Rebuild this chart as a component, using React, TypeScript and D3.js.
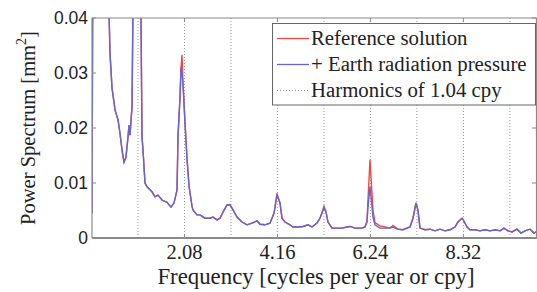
import React, { useEffect, useRef } from 'react'
import { select, scaleLinear, line, range } from 'd3'

// frequency (cpy) of each sample
const freqs = [
  0.011, 0.034, 0.09, 0.2, 0.33, 0.392, 0.414, 0.459, 0.526, 0.593, 0.638, 0.682, 0.727, 0.772, 0.817, 0.839,
  0.861, 0.906, 0.928, 0.973, 1.04, 1.096, 1.107, 1.13, 1.152, 1.197, 1.242, 1.353, 1.421, 1.488, 1.577,
  1.689, 1.779, 1.846, 1.913, 1.935, 1.98, 2.003, 2.025, 2.047, 2.092, 2.136, 2.181, 2.248, 2.27, 2.36,
  2.427, 2.539, 2.651, 2.718, 2.808, 2.875, 2.942, 3.031, 3.098, 3.166, 3.255, 3.367, 3.479, 3.591, 3.703,
  3.77, 3.882, 3.993, 4.083, 4.15, 4.217, 4.262, 4.329, 4.441, 4.508, 4.62, 4.732, 4.843, 4.933, 5.045,
  5.112, 5.201, 5.246, 5.291, 5.38, 5.492, 5.604, 5.716, 5.783, 5.895, 6.051, 6.119, 6.163, 6.186, 6.23,
  6.253, 6.298, 6.342, 6.454, 6.566, 6.678, 6.745, 6.857, 6.969, 7.058, 7.125, 7.192, 7.26, 7.304, 7.349,
  7.461, 7.573, 7.685, 7.796, 7.908, 8.02, 8.132, 8.199, 8.289, 8.311, 8.401, 8.468, 8.58, 8.691, 8.803,
  8.915, 9.027, 9.139, 9.228, 9.318, 9.407, 9.519, 9.609, 9.698, 9.81, 9.899, 9.99
]

// + Earth radiation pressure
const earthRad = [
  0.0045, 0.06, 0.1, 0.12, 0.08, 0.041, 0.0336, 0.0273, 0.0233, 0.0215, 0.019, 0.016, 0.0138, 0.0147, 0.0184, 0.0205,
  0.0187, 0.0238, 0.042, 0.07, 0.09, 0.05, 0.04, 0.0184, 0.016, 0.01, 0.0093, 0.0084, 0.0075, 0.0078, 0.0069,
  0.0065, 0.0056, 0.0064, 0.0087, 0.0184, 0.0256, 0.031, 0.03, 0.028, 0.021, 0.0145, 0.0095, 0.0058, 0.0051, 0.0042,
  0.0042, 0.0036, 0.0036, 0.0038, 0.0033, 0.0036, 0.0047, 0.006, 0.006, 0.0051, 0.0038, 0.0029, 0.0024, 0.0027, 0.0031,
  0.0025, 0.0024, 0.0027, 0.0045, 0.0078, 0.0064, 0.0036, 0.0029, 0.0024, 0.002, 0.002, 0.0021, 0.0024, 0.002, 0.0027,
  0.0036, 0.0055, 0.0047, 0.0029, 0.0018, 0.0018, 0.0018, 0.002, 0.0021, 0.0018, 0.0018, 0.002, 0.0029, 0.0056, 0.0093,
  0.0075, 0.0038, 0.0024, 0.0018, 0.0018, 0.0018, 0.002, 0.0016, 0.0015, 0.0018, 0.002, 0.0036, 0.0064, 0.005, 0.0018,
  0.0015, 0.0016, 0.0013, 0.0016, 0.0013, 0.0015, 0.002, 0.0029, 0.0036, 0.0034, 0.002, 0.0015, 0.0015, 0.0013, 0.0015,
  0.0013, 0.0015, 0.0013, 0.0018, 0.0013, 0.0011, 0.0016, 0.0009, 0.0013, 0.0016, 0.0009, 0.0013
]

// Reference solution
const reference = [
  0.0045, 0.06, 0.1, 0.12, 0.08, 0.041, 0.0336, 0.0273, 0.0233, 0.0215, 0.019, 0.016, 0.0138, 0.0147, 0.0184, 0.0205,
  0.0187, 0.0238, 0.042, 0.07, 0.09, 0.05, 0.04, 0.0184, 0.016, 0.01, 0.0093, 0.0084, 0.0075, 0.0078, 0.0069,
  0.0065, 0.0056, 0.0064, 0.0087, 0.0184, 0.0256, 0.031, 0.0333, 0.028, 0.021, 0.0145, 0.0095, 0.0058, 0.0051, 0.0042,
  0.0042, 0.0036, 0.0036, 0.0038, 0.0033, 0.0036, 0.0047, 0.006, 0.0061, 0.0051, 0.0038, 0.0029, 0.0024, 0.0027, 0.0031,
  0.0025, 0.0024, 0.0027, 0.0045, 0.0081, 0.0064, 0.0036, 0.0029, 0.0024, 0.002, 0.002, 0.0021, 0.0024, 0.002, 0.0027,
  0.0036, 0.0058, 0.0048, 0.0029, 0.0018, 0.0018, 0.0018, 0.002, 0.0021, 0.0018, 0.0018, 0.002, 0.0031, 0.007, 0.0142,
  0.011, 0.005, 0.0028, 0.0022, 0.002, 0.0018, 0.0023, 0.0016, 0.0015, 0.0018, 0.002, 0.0036, 0.0064, 0.005, 0.0018,
  0.0015, 0.0016, 0.0013, 0.0016, 0.0013, 0.0015, 0.002, 0.0029, 0.0036, 0.0034, 0.002, 0.0015, 0.0015, 0.0013, 0.0015,
  0.0013, 0.0015, 0.0013, 0.0018, 0.0013, 0.0011, 0.0016, 0.0009, 0.0013, 0.0016, 0.0009, 0.0013
]

const xTicks = [2.08, 4.16, 6.24, 8.32]
const yTicks = [0, 0.01, 0.02, 0.03, 0.04]
const harmonic = 1.04
const legendLabels = ['Reference solution', '+ Earth radiation pressure', 'Harmonics of 1.04 cpy']

const RED = '#f04848'
const BLUE = '#6464d2'
const GRID = '#9a9a9a'
const AXIS = '#8a8a8a'
const SERIF = "'Liberation Serif', 'Times New Roman', 'DejaVu Serif', serif"
const SANS = "'Liberation Sans', Arial, sans-serif"

export default function App() {
  const ref = useRef<SVGSVGElement>(null)

  useEffect(() => {
    const svg = select(ref.current)
    svg.selectAll('*').remove()

    const m = { left: 92, top: 18, right: 538, bottom: 238 }
    const x = scaleLinear().domain([0, 10]).range([91.5, 538.5])
    const y = scaleLinear().domain([0, 0.04]).range([m.bottom, m.top])

    svg.append('defs').append('clipPath').attr('id', 'plotclip')
      .append('rect').attr('x', m.left).attr('y', m.top)
      .attr('width', m.right - m.left).attr('height', m.bottom - m.top)

    // harmonics
    const harmonics = range(1, 10).map(k => k * harmonic)
    svg.append('g').selectAll('line').data(harmonics).enter().append('line')
      .attr('x1', d => x(d)).attr('x2', d => x(d))
      .attr('y1', m.top).attr('y2', m.bottom)
      .attr('stroke', GRID).attr('stroke-width', 1).attr('stroke-dasharray', '1,2')

    const plot = svg.append('g').attr('clip-path', 'url(#plotclip)')
    const mk = (vals: number[]) => line<number>()
      .x((d, i) => x(freqs[i]))
      .y(d => y(d))(vals)

    plot.append('path').attr('d', mk(reference)).attr('fill', 'none')
      .attr('stroke', RED).attr('stroke-width', 1.4)
    plot.append('path').attr('d', mk(earthRad)).attr('fill', 'none')
      .attr('stroke', BLUE).attr('stroke-width', 1.4)

    // axes frame
    const ax = svg.append('g')
    ax.append('line').attr('x1', m.left).attr('x2', m.right).attr('y1', m.bottom).attr('y2', m.bottom)
      .attr('stroke', AXIS).attr('stroke-width', 2)
    ax.append('line').attr('x1', m.left).attr('x2', m.right).attr('y1', m.top).attr('y2', m.top)
      .attr('stroke', AXIS).attr('stroke-width', 1.2)
    ax.append('line').attr('x1', m.left).attr('x2', m.left).attr('y1', m.top).attr('y2', m.bottom)
      .attr('stroke', AXIS).attr('stroke-width', 1.2)
    ax.append('line').attr('x1', 536.5).attr('x2', 536.5).attr('y1', m.top).attr('y2', m.bottom)
      .attr('stroke', AXIS).attr('stroke-width', 1.2)

    yTicks.forEach(t => {
      ax.append('line').attr('x1', m.left).attr('x2', m.left + 4).attr('y1', y(t)).attr('y2', y(t))
        .attr('stroke', AXIS)
      ax.append('line').attr('x1', 536).attr('x2', 532).attr('y1', y(t)).attr('y2', y(t))
        .attr('stroke', AXIS)
      ax.append('text').attr('x', 88).attr('y', y(t) + 6).attr('text-anchor', 'end')
        .style('font-family', SANS).style('font-size', '17.5px')
        .attr('fill', '#222').text(t === 0 ? '0' : t.toFixed(2))
    })
    xTicks.forEach(t => {
      ax.append('line').attr('x1', x(t)).attr('x2', x(t)).attr('y1', m.bottom).attr('y2', m.bottom - 4)
        .attr('stroke', AXIS)
      ax.append('line').attr('x1', x(t)).attr('x2', x(t)).attr('y1', m.top).attr('y2', m.top + 4)
        .attr('stroke', AXIS)
      ax.append('text').attr('x', x(t)).attr('y', 258.5).attr('text-anchor', 'middle')
        .style('font-family', SERIF).style('font-size', '20.5px')
        .attr('fill', '#222').text(t.toFixed(2))
    })

    // axis titles
    svg.append('text').attr('x', 316).attr('y', 283.5).attr('text-anchor', 'middle')
      .style('font-family', SERIF).style('font-size', '22.8px')
      .attr('fill', '#222').text('Frequency [cycles per year or cpy]')
    const yl = svg.append('text').attr('transform', 'translate(35,128) rotate(-90)')
      .attr('text-anchor', 'middle')
      .style('font-family', SERIF).style('font-size', '20.5px')
      .attr('fill', '#222')
    yl.append('tspan').text('Power Spectrum [mm')
    yl.append('tspan').attr('dy', -9).style('font-size', '14px').text('2')
    yl.append('tspan').attr('dy', 9).text(']')

    // legend
    const lg = svg.append('g')
    lg.append('rect').attr('x', 272.5).attr('y', 23.5).attr('width', 263).attr('height', 81.5)
      .attr('fill', '#fff').attr('stroke', '#666').attr('stroke-width', 1)
    const styles = [
      { stroke: RED, dash: null },
      { stroke: BLUE, dash: null },
      { stroke: GRID, dash: '1,2' }
    ]
    legendLabels.forEach((lab, i) => {
      const ly = 38.5 + i * 26
      lg.append('line').attr('x1', 277).attr('x2', 309).attr('y1', ly).attr('y2', ly)
        .attr('stroke', styles[i].stroke).attr('stroke-width', styles[i].dash ? 1 : 1.3)
        .attr('stroke-dasharray', styles[i].dash)
      lg.append('text').attr('x', 311).attr('y', ly + 6.5)
        .style('font-family', SERIF).style('font-size', '20.8px')
        .attr('fill', '#222').text(lab)
    })
  }, [])

  return (
    <div style={{ position: 'absolute', left: 0, top: 0 }}>
      <svg ref={ref} width={537} height={292} style={{ display: 'block', background: '#fff' }} />
    </div>
  )
}
